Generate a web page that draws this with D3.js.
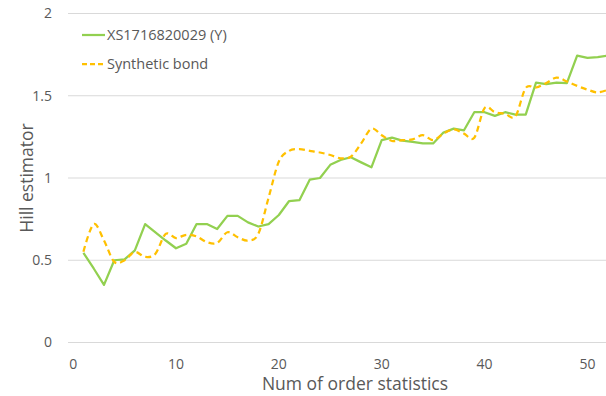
<!DOCTYPE html>
<html>
<head>
<meta charset="utf-8">
<script src="https://cdn.jsdelivr.net/npm/d3@7"></script>
<style>
  body { margin: 0; background: #fff; }
  text { font-family: "Open Sans", "Liberation Sans", sans-serif; fill: #595959; }
</style>
</head>
<body>
<div id="chart"></div>
<script>
// values
const orderStats = d3.range(1, 53);

const xsBond = [0.545, 0.45, 0.35, 0.50, 0.505, 0.56, 0.72, 0.67, 0.62, 0.573,
  0.60, 0.72, 0.72, 0.69, 0.77, 0.77, 0.73, 0.705, 0.72, 0.775,
  0.86, 0.865, 0.99, 1.0, 1.08, 1.11, 1.126, 1.095, 1.065, 1.23,
  1.245, 1.227, 1.22, 1.21, 1.21, 1.276, 1.30, 1.29, 1.40, 1.40,
  1.378, 1.40, 1.385, 1.385, 1.58, 1.57, 1.58, 1.577, 1.744, 1.73,
  1.735, 1.744];

const syntheticBond = [0.552, 0.72, 0.62, 0.49, 0.50, 0.55, 0.52, 0.54, 0.66, 0.635,
  0.655, 0.645, 0.61, 0.605, 0.67, 0.64, 0.62, 0.66, 0.88, 1.10,
  1.165, 1.175, 1.165, 1.155, 1.14, 1.12, 1.13, 1.21, 1.30, 1.26,
  1.225, 1.23, 1.235, 1.26, 1.23, 1.27, 1.295, 1.27, 1.245, 1.425,
  1.40, 1.39, 1.375, 1.547, 1.55, 1.577, 1.61, 1.587, 1.56, 1.537,
  1.52, 1.537];

const xTicks = [0, 10, 20, 30, 40, 50];
const yTicks = [0, 0.5, 1, 1.5, 2];
const seriesNames = ["XS1716820029 (Y)", "Synthetic bond"];

const width = 606, height = 396;

const svg = d3.select("#chart").append("svg")
    .attr("width", width)
    .attr("height", height);

const x = d3.scaleLinear().domain([-0.5, 52]).range([68, 608]);
const y = d3.scaleLinear().domain([0, 2]).range([342.5, 13.5]);

// gridlines
svg.append("g")
    .selectAll("line")
    .data(yTicks)
    .enter().append("line")
    .attr("x1", 68)
    .attr("x2", width)
    .attr("y1", d => y(d))
    .attr("y2", d => y(d))
    .attr("stroke", "#d9d9d9")
    .attr("stroke-width", 1);

// y tick labels
svg.append("g")
    .selectAll("text")
    .data(yTicks)
    .enter().append("text")
    .attr("x", 52)
    .attr("y", d => y(d))
    .attr("dy", "0.35em")
    .attr("text-anchor", "end")
    .style("font-size", "14px")
    .text(d => d);

// x tick labels
svg.append("g")
    .selectAll("text")
    .data(xTicks)
    .enter().append("text")
    .attr("x", d => x(d))
    .attr("y", 364)
    .attr("dy", "0.35em")
    .attr("text-anchor", "middle")
    .style("font-size", "14px")
    .text(d => d);

// axis titles
svg.append("text")
    .attr("x", 355)
    .attr("y", 384)
    .attr("dy", "0.35em")
    .attr("text-anchor", "middle")
    .style("font-size", "17.5px")
    .text("Num of order statistics");

svg.append("text")
    .attr("transform", "translate(27,178) rotate(-90)")
    .attr("dy", "0.35em")
    .attr("text-anchor", "middle")
    .style("font-size", "17.5px")
    .text("Hill estimator");

// lines
const greenLine = d3.line()
    .x((d, i) => x(orderStats[i]))
    .y(d => y(d));

const orangeLine = d3.line()
    .x((d, i) => x(orderStats[i]))
    .y(d => y(d))
    .curve(d3.curveCardinal.tension(0));

svg.append("path")
    .datum(xsBond)
    .attr("d", greenLine)
    .attr("fill", "none")
    .attr("stroke", "#92d050")
    .attr("stroke-width", 2.25)
    .attr("stroke-linejoin", "round");

svg.append("path")
    .datum(syntheticBond)
    .attr("d", orangeLine)
    .attr("fill", "none")
    .attr("stroke", "#ffc000")
    .attr("stroke-width", 2.25)
    .attr("stroke-dasharray", "6,4");

// legend
const legend = svg.append("g");
const legendY = [35, 64];
const legendStyle = [
    { color: "#92d050", dash: null },
    { color: "#ffc000", dash: "5,3" }
];

seriesNames.forEach((name, i) => {
    legend.append("line")
        .attr("x1", 82).attr("x2", 105)
        .attr("y1", legendY[i]).attr("y2", legendY[i])
        .attr("stroke", legendStyle[i].color)
        .attr("stroke-width", 2.25)
        .attr("stroke-dasharray", legendStyle[i].dash);
    legend.append("text")
        .attr("x", 107)
        .attr("y", legendY[i])
        .attr("dy", "0.35em")
        .style("font-size", "14.5px")
        .text(name);
});
</script>
</body>
</html>
